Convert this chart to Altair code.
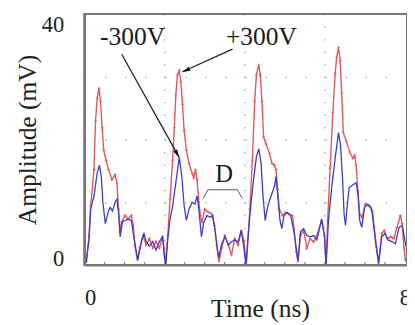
import altair as alt
import pandas as pd

# +300V trace (red), time in ns, amplitude in mV
red_t = [0, 0.05, 0.115, 0.154, 0.237, 0.276, 0.318, 0.36, 0.40, 0.44, 0.48, 0.54, 0.60, 0.685, 0.766, 0.81, 0.85, 0.89, 0.93, 1.01, 1.09, 1.17, 1.22, 1.255, 1.32, 1.38, 1.46, 1.54, 1.62, 1.705, 1.786, 1.87, 1.95, 1.99,
         2.02, 2.08, 2.136, 2.20, 2.243, 2.28, 2.32, 2.366, 2.405, 2.446, 2.488, 2.544, 2.61, 2.69, 2.73, 2.77, 2.81, 2.855, 2.894, 2.936, 3.00, 3.10, 3.18, 3.246, 3.30, 3.36, 3.425, 3.506, 3.59, 3.67, 3.75, 3.834, 3.914, 3.98,
         4.04, 4.127, 4.19, 4.25, 4.29, 4.35, 4.387, 4.43, 4.47, 4.53, 4.62, 4.68, 4.74, 4.78, 4.82, 4.86, 4.94, 5.02, 5.106, 5.19, 5.23, 5.285, 5.33, 5.39, 5.47, 5.55, 5.63, 5.72, 5.80, 5.92, 5.99,
         6.03, 6.07, 6.13, 6.20, 6.256, 6.295, 6.34, 6.38, 6.42, 6.46, 6.54, 6.62, 6.70, 6.745, 6.78, 6.826, 6.87, 6.93, 7.01, 7.11, 7.19, 7.23, 7.29, 7.34, 7.42, 7.48, 7.56, 7.64, 7.72, 7.80, 7.885, 7.93, 7.97, 8.01, 8.05]
red_v = [0, 0.6, 4.7, 9.4, 15.2, 23.0, 26.6, 28.2, 26.1, 21.9, 18.3, 16.7, 15.2, 13.6, 14.4, 13.1, 8.9, 5.3, 6.9, 7.9, 7.3, 7.9, 6.3, 3.2, 0.8, 2.7, 4.7, 3.2, 4.2, 2.7, 3.75, 2.7, 4.5, 2.5,
         0, 4.7, 10.5, 16.7, 21.9, 27.1, 30.3, 31.0, 29.2, 25.6, 21.4, 18.3, 16.2, 14.6, 13.9, 15.2, 13.6, 10.0, 7.9, 6.8, 8.9, 8.4, 8.1, 6.3, 3.2, 0.6, 2.7, 4.7, 3.2, 1.6, 4.2, 3.2, 5.5, 3.75,
         0, 8.9, 16.7, 26.1, 30.3, 31.9, 30.3, 26.1, 20.4, 19.3, 17.8, 16.2, 15.9, 15.2, 12.0, 8.9, 7.9, 8.4, 8.1, 7.9, 5.8, 2.1, 0.6, 4.7, 5.5, 2.7, 4.2, 3.7, 4.7, 7.1, 4.7,
         0, 7.1, 15.4, 24.3, 30.5, 33.1, 34.7, 32.6, 27.4, 21.1, 19.6, 18.0, 17.0, 17.5, 15.9, 11.8, 8.1, 7.6, 9.7, 9.4, 8.6, 6.0, 2.9, 0.3, 5.0, 5.5, 4.2, 4.5, 4.2, 6.0, 7.9, 6.6, 2.9, 0.8, 0.5]

# -300V trace (blue)
blue_t = [0, 0.05, 0.115, 0.154, 0.237, 0.318, 0.374, 0.42, 0.46, 0.52, 0.59, 0.64, 0.70, 0.766, 0.81, 0.85, 0.89, 0.95, 1.01, 1.09, 1.17, 1.24, 1.30, 1.33, 1.42, 1.485, 1.54, 1.62, 1.705, 1.786, 1.87, 1.95, 1.99,
          2.03, 2.08, 2.136, 2.20, 2.28, 2.366, 2.43, 2.488, 2.544, 2.61, 2.69, 2.757, 2.81, 2.855, 2.92, 2.977, 3.06, 3.14, 3.20, 3.26, 3.345, 3.425, 3.506, 3.59, 3.67, 3.75, 3.834, 3.914, 3.98,
          4.03, 4.127, 4.21, 4.29, 4.35, 4.41, 4.45, 4.51, 4.575, 4.656, 4.74, 4.78, 4.82, 4.876, 4.925, 4.98, 5.06, 5.145, 5.23, 5.33, 5.39, 5.47, 5.55, 5.63, 5.72, 5.80, 5.92, 5.99,
          6.03, 6.09, 6.17, 6.256, 6.34, 6.39, 6.44, 6.48, 6.515, 6.55, 6.605, 6.70, 6.78, 6.826, 6.87, 6.92, 6.99, 7.07, 7.15, 7.19, 7.27, 7.34, 7.42, 7.50, 7.58, 7.68, 7.76, 7.85, 7.93, 7.97, 8.01, 8.05]
blue_v = [0, 0.8, 4.2, 8.9, 11.0, 14.7, 15.9, 14.1, 10.0, 6.6, 8.4, 9.2, 8.6, 10.0, 10.5, 8.4, 4.5, 6.9, 7.1, 7.3, 7.1, 4.2, 1.9, 0.8, 3.75, 5.0, 3.75, 3.0, 3.75, 2.4, 3.75, 4.5, 1.6,
          0, 4.2, 7.3, 9.4, 13.1, 17.2, 14.1, 9.4, 7.1, 8.9, 10.0, 9.7, 11.0, 8.9, 4.5, 6.8, 7.9, 7.6, 7.9, 5.5, 1.1, 3.4, 4.5, 3.2, 3.7, 4.0, 3.7, 5.5, 2.7,
          0, 7.9, 13.1, 17.2, 18.5, 16.2, 11.5, 7.1, 9.4, 11.0, 12.5, 14.1, 11.5, 7.3, 5.8, 7.9, 8.4, 7.9, 5.3, 0.6, 5.3, 5.8, 4.7, 4.5, 4.7, 4.0, 7.3, 4.7,
          0, 7.1, 12.3, 17.0, 21.1, 19.1, 13.9, 8.1, 6.3, 8.9, 12.3, 12.8, 13.1, 11.25, 7.1, 6.0, 9.2, 9.7, 9.2, 7.9, 3.4, 0.3, 4.5, 5.0, 4.0, 3.7, 3.4, 6.0, 6.3, 5.0, 3.4, 2.5]

# grid, ticks and frame
grid_x = [2, 4, 6]
tick_x = [0.5, 1.0, 1.5, 2.0, 2.5, 3.0, 3.5, 4.0, 4.5, 5.0, 5.5, 6.0, 6.5, 7.0, 7.5]
tick_len = 0.5
x_label_values = [0, 8]
y_tick_values = [0, 10, 20, 30, 40]
x_min, x_max = 0, 8.05
y_min, y_max = 0, 40

# annotations
label_text = ["-300V", "+300V", "D"]
label_t = [1.20, 4.416, 3.486]
label_v = [35.0, 35.0, 13.3]
label_size = [26, 26, 25]

arrow_id = ["a1", "a1", "a2", "a2"]
arrow_t = [0.93, 2.36, 3.694, 2.446]
arrow_v = [33.6, 17.2, 34.4, 30.8]
head_t = [2.313, 2.535]
head_v = [17.73, 31.03]
head_angle = [150.9, 245.7]

bracket_t = [2.96, 3.08, 3.816, 3.94]
bracket_v = [10.6, 12.0, 12.0, 10.6]

FONT = "Liberation Serif"
RED = "#e0585a"
BLUE = "#3a3ad0"
GRID = "#a8a8a8"
FRAME = "#777777"

red_df = pd.DataFrame({"t": red_t, "v": red_v})
blue_df = pd.DataFrame({"t": blue_t, "v": blue_v})
grid_df = pd.DataFrame({"t": grid_x})

# frame box drawn as an unfilled rect over the full domain
box_df = pd.DataFrame({"t": [x_min], "t2": [x_max], "v": [y_min], "v2": [y_max]})

tick_rows = []
for i, tx in enumerate(tick_x):
    tick_rows.append({"t": tx, "v": y_min, "id": i, "o": 0})
    tick_rows.append({"t": tx, "v": y_min + tick_len, "id": i, "o": 1})
tick_df = pd.DataFrame(tick_rows)

label_df = pd.DataFrame({"t": label_t, "v": label_v, "text": label_text, "size": label_size})
arrow_df = pd.DataFrame({"t": arrow_t, "v": arrow_v, "id": arrow_id})
head_df = pd.DataFrame({"t": head_t, "v": head_v, "angle": head_angle})
bracket_df = pd.DataFrame({"t": bracket_t, "v": bracket_v, "o": [0, 1, 2, 3]})

x_scale = alt.Scale(domain=[x_min, x_max], nice=False, zero=False)
y_scale = alt.Scale(domain=[y_min, y_max], nice=False)

x_axis = alt.Axis(
    values=x_label_values, format="d", ticks=False, domain=True,
    domainColor=FRAME, domainWidth=2, grid=False,
    labelFont=FONT, labelFontSize=23, labelColor="#222222", labelPadding=22,
    title="Time (ns)", titleFont=FONT, titleFontSize=26, titleFontWeight="normal",
    titleColor="#222222", titleX=179, titleY=31.5, titleBaseline="top",
)
y_axis = alt.Axis(
    values=y_tick_values,
    labelExpr="datum.value == 0 || datum.value == 40 ? datum.label : ''",
    ticks=False, domain=True, domainColor=FRAME, domainWidth=2, grid=True,
    gridDash=[1.5, 18.94], gridColor=GRID, gridWidth=1.3,
    gridOpacity={"condition": {"test": "datum.value == 0 || datum.value == 40", "value": 0}, "value": 1},
    labelFont=FONT, labelFontSize=23, labelColor="#222222", labelPadding=21,
    labelBaseline={"condition": {"test": "datum.value == 40", "value": "top"}, "value": "alphabetic"},
    title="Amplitude (mV)", titleFont=FONT, titleFontSize=26, titleFontWeight="normal",
    titleColor="#222222", titleX=-45, titleY=128,
)

X = alt.X("t:Q", scale=x_scale, axis=x_axis)
Y = alt.Y("v:Q", scale=y_scale, axis=y_axis)

vgrid = alt.Chart(grid_df).mark_rule(color=GRID, strokeWidth=1.3, strokeDash=[1.5, 11.3]).encode(x=X)
ticks = alt.Chart(tick_df).mark_line(color="#808080", strokeWidth=1.2).encode(
    x=X, y=Y, detail="id:N", order="o:Q")

red_line = alt.Chart(red_df).mark_line(color=RED, strokeWidth=1.4, clip=True).encode(x=X, y=Y)
red_pts = alt.Chart(red_df).mark_point(
    shape="M-1,0H1M0,-1V1", filled=False, size=10, strokeWidth=0.8, color=RED, opacity=0.8, clip=True
).encode(x=X, y=Y)
blue_line = alt.Chart(blue_df).mark_line(color=BLUE, strokeWidth=1.3, clip=True).encode(x=X, y=Y)

box = alt.Chart(box_df).mark_rect(
    filled=False, stroke=FRAME, strokeWidth=2, fillOpacity=0
).encode(x=X, x2="t2:Q", y=Y, y2="v2:Q")

bracket = alt.Chart(bracket_df).mark_line(color="#555555", strokeWidth=1).encode(x=X, y=Y, order="o:Q")
arrows = alt.Chart(arrow_df).mark_line(color="#222222", strokeWidth=1.3).encode(x=X, y=Y, detail="id:N")
heads = alt.Chart(head_df).mark_point(
    shape="M0,-1L0.55,1L-0.55,1Z", filled=True, size=64, color="#111111", opacity=1
).encode(x=X, y=Y, angle=alt.Angle("angle:Q", scale=None))

labels = alt.Chart(label_df).mark_text(
    font=FONT, baseline="alphabetic", align="center", color="#1a1a1a"
).encode(x=X, y=Y, text="text:N", size=alt.Size("size:Q", scale=None))

chart = alt.layer(
    vgrid, ticks, red_line, red_pts, blue_line, box, bracket, arrows, heads, labels
).properties(
    width=329, height=256,
    autosize=alt.AutoSizeParams(type="none"),
    padding={"left": 78, "top": 3, "right": 0, "bottom": 58},
    background="white",
).configure_view(stroke=FRAME, strokeWidth=2)

chart.save("out.html", embed_options={"renderer": "svg", "actions": False})
